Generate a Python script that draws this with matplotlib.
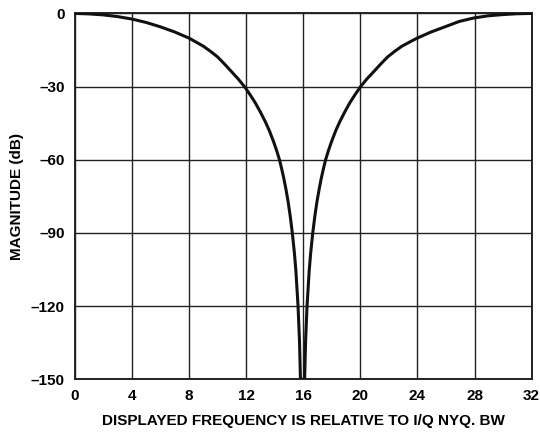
import matplotlib
matplotlib.use('Agg')
import matplotlib.pyplot as plt

# values (frequency, magnitude in dB)
freq = [0, 1, 2, 3, 4, 5, 6, 7, 8, 9, 9.5, 10, 10.5, 11, 11.44, 11.89,
        12.29, 12.64, 12.99, 13.34, 13.64, 13.94, 14.14, 14.34, 14.49, 14.64,
        14.79, 14.94, 15.09, 15.24, 15.39, 15.49, 15.64, 15.74, 15.81,
        16.10, 16.17, 16.27, 16.42, 16.52, 16.67, 16.82, 16.97, 17.12, 17.27,
        17.42, 17.57, 17.77, 17.97, 18.27, 18.57, 18.92, 19.27, 19.62, 20.02,
        20.47, 20.92, 21.42, 21.92, 22.42, 22.92, 23.92, 24.92, 25.92, 26.92,
        27.92, 28.92, 29.92, 30.92, 32]
mag_db = [0, -0.2, -0.6, -1.3, -2.3, -3.7, -5.5, -7.6, -10.1, -13.4, -15.5, -17.8,
          -20.8, -24.0, -26.8, -30,
          -33.4, -36.6, -40.3, -44.3, -48.2, -52.8, -56.2, -60, -63.6, -67.5,
          -72, -77, -83, -90, -98.5, -105.6, -120, -134, -150,
          -150, -134, -120, -105.6, -98.5, -90, -83, -77, -72, -67.5,
          -63.6, -60, -56.2, -52.8, -48.2, -44.3, -40.3, -36.6, -33.4, -30,
          -26.8, -24.0, -20.8, -17.8, -15.5, -13.4, -10.3, -7.7, -5.5, -3.3,
          -1.9, -1.0, -0.5, -0.15, 0]

xticks = [0, 4, 8, 12, 16, 20, 24, 28, 32]
yticks = [0, -30, -60, -90, -120, -150]
ytick_labels = ['0', '\u201330', '\u201360', '\u201390', '\u2013120', '\u2013150']

plt.rcParams['font.family'] = ['Liberation Sans', 'DejaVu Sans']
plt.rcParams['font.weight'] = 'bold'

fig = plt.figure(figsize=(5.4, 4.37), dpi=100)
ax = fig.add_axes([0.1383, 0.132, 0.8463, 0.8373])

ax.plot(freq, mag_db, color='#111111', linewidth=2.2, solid_joinstyle='round', zorder=3)

ax.set_xlim(0, 32)
ax.set_ylim(-150, 0)
ax.set_xticks(xticks)
ax.set_xticklabels([str(t) for t in xticks])
ax.set_yticks(yticks)
ax.set_yticklabels(ytick_labels)
ax.grid(True, color='#222222', linewidth=1.0)
ax.tick_params(length=0, labelsize=11, pad=7)
for sp in ax.spines.values():
    sp.set_linewidth(1.4)
    sp.set_color('#222222')

ax.set_xlabel('DISPLAYED FREQUENCY IS RELATIVE TO I/Q NYQ. BW', fontsize=11,
              fontweight='bold', labelpad=8)
ax.set_ylabel('MAGNITUDE (dB)', fontsize=11, fontweight='bold', labelpad=5)

fig.savefig('out.png', dpi=100)
